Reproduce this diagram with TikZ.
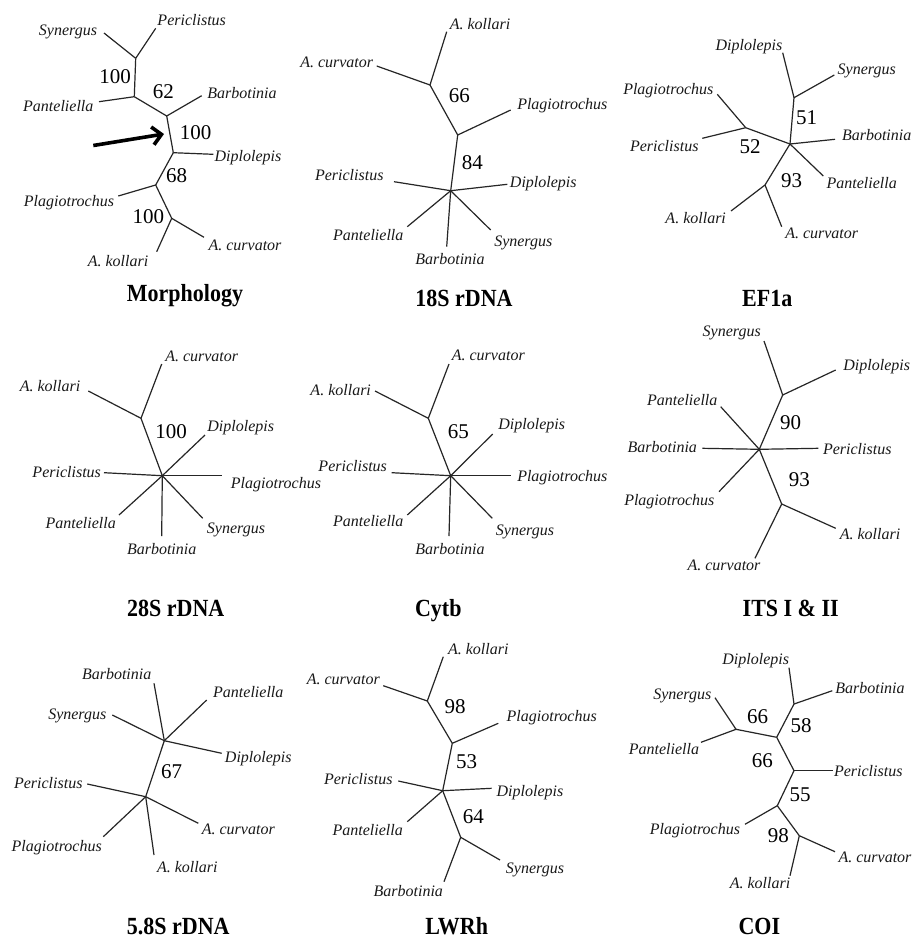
\documentclass[tikz,border=0pt]{standalone}
\usepackage{fontspec}
\setmainfont{Liberation Serif}
\usetikzlibrary{arrows.meta}
\tikzset{
 br/.style={line width=1.2pt, draw=black!85},
 lab/.style={font=\fontsize{16}{16}\selectfont\itshape, text=black!90, inner sep=0pt, text height=10.5pt, text depth=0pt},
 num/.style={font=\fontsize{21}{21}\selectfont, inner sep=0pt, text height=14pt, text depth=0pt},
 ttl/.style={font=\fontsize{22}{22}\selectfont\bfseries, inner sep=0pt, text height=15pt, text depth=0pt, yscale=1.12},
 bigarrow/.style={line width=3.6pt, -{Straight Barb[length=9pt,width=18pt]}},
}
\begin{document}
\begin{tikzpicture}[x=1pt,y=-1pt]
\useasboundingbox[fill=white] (0,0) rectangle (915,938);

% ---------- Morphology ----------
\coordinate (mA) at (135.7,58.3);
\coordinate (mSyn) at (104,33);
\coordinate (mPer) at (155.7,28.3);
\coordinate (mB) at (134.3,96.7);
\coordinate (mPan) at (99,101.7);
\coordinate (mC) at (166.7,116);
\coordinate (mBar) at (201.7,95.7);
\coordinate (mD) at (173.3,152.7);
\coordinate (mDip) at (213.3,154.3);
\coordinate (mE) at (155.7,185);
\coordinate (mPla) at (118.3,196);
\coordinate (mF) at (171.7,218.3);
\coordinate (mCur) at (204,237.3);
\coordinate (mKol) at (156.7,251.7);
\foreach \a/\b in {mA/mSyn,mA/mPer,mA/mB,mB/mPan,mB/mC,mC/mBar,mC/mD,mD/mDip,mD/mE,mE/mPla,mE/mF,mF/mCur,mF/mKol}
  \draw[br] (\a) -- (\b);
\node[lab] (mSynL) at (68,30) {Synergus};
\node[lab] (mPerL) at (191.7,20) {Periclistus};
\node[lab] (mPanL) at (58.3,106) {Panteliella};
\node[lab] (mBarL) at (242,93.3) {Barbotinia};
\node[lab] (mDipL) at (248,156.7) {Diplolepis};
\node[lab] (mPlaL) at (69,201.7) {Plagiotrochus};
\node[lab] (mCurL) at (245,245) {A. curvator};
\node[lab] (mKolL) at (118,261) {A. kollari};
\node[num] (mN1) at (115,76) {100};
\node[num] (mN2) at (163.3,91.7) {62};
\node[num] (mN3) at (195.7,132.3) {100};
\node[num] (mN4) at (176.7,175) {68};
\node[num] (mN5) at (148.3,216) {100};
\coordinate (arrS) at (93.3,145.5);
\coordinate (arrE) at (164,134);
\draw[bigarrow] (arrS) -- (arrE);
\node[ttl] (mT) at (185,293) {Morphology};

% ---------- 18S rDNA ----------
\coordinate (sA) at (430,85);
\coordinate (sKol) at (446.7,31.7);
\coordinate (sCur) at (376.7,66);
\coordinate (sB) at (457.7,135);
\coordinate (sPla) at (510.7,110);
\coordinate (sC) at (450.7,190.7);
\coordinate (sPer) at (394,181.7);
\coordinate (sDip) at (507.3,184.3);
\coordinate (sPan) at (407.3,226.7);
\coordinate (sBar) at (446.7,246.7);
\coordinate (sSyn) at (490.7,230);
\foreach \a/\b in {sA/sKol,sA/sCur,sA/sB,sB/sPla,sB/sC,sC/sPer,sC/sDip,sC/sPan,sC/sBar,sC/sSyn}
  \draw[br] (\a) -- (\b);
\node[lab] (sKolL) at (480,24) {A. kollari};
\node[lab] (sCurL) at (336.7,62.7) {A. curvator};
\node[lab] (sPlaL) at (562.3,104) {Plagiotrochus};
\node[lab] (sPerL) at (349.3,175.7) {Periclistus};
\node[lab] (sDipL) at (543.3,182.7) {Diplolepis};
\node[lab] (sPanL) at (368.3,235) {Panteliella};
\node[lab] (sSynL) at (523.3,241.7) {Synergus};
\node[lab] (sBarL) at (450,259.3) {Barbotinia};
\node[num] (sN1) at (459.3,95.7) {66};
\node[num] (sN2) at (472.3,162.7) {84};
\node[ttl] (sT) at (464,298.3) {18S rDNA};

% ---------- EF1a ----------
\coordinate (eA) at (794,97.7);
\coordinate (eDip) at (782.7,52.7);
\coordinate (eSyn) at (834.3,75);
\coordinate (eB) at (745.7,127.7);
\coordinate (ePla) at (717.3,94.3);
\coordinate (ePer) at (702.3,138.3);
\coordinate (eC) at (790,144);
\coordinate (eBar) at (835,139.3);
\coordinate (ePan) at (823.3,176);
\coordinate (eD) at (765,185);
\coordinate (eKol) at (731,211);
\coordinate (eCur) at (781.7,226.7);
\foreach \a/\b in {eA/eDip,eA/eSyn,eA/eC,eB/ePla,eB/ePer,eB/eC,eC/eBar,eC/ePan,eC/eD,eD/eKol,eD/eCur}
  \draw[br] (\a) -- (\b);
\node[lab] (eDipL) at (749,45) {Diplolepis};
\node[lab] (eSynL) at (866.7,69) {Synergus};
\node[lab] (ePlaL) at (668.3,89.3) {Plagiotrochus};
\node[lab] (ePerL) at (664.3,146) {Periclistus};
\node[lab] (eBarL) at (876.7,135) {Barbotinia};
\node[lab] (ePanL) at (861.7,183.3) {Panteliella};
\node[lab] (eKolL) at (695.7,218.3) {A. kollari};
\node[lab] (eCurL) at (821.7,233.3) {A. curvator};
\node[num] (eN1) at (806.7,117.3) {51};
\node[num] (eN2) at (750,146) {52};
\node[num] (eN3) at (791.7,180) {93};
\node[ttl] (eT) at (767.3,298.3) {EF1a};

% ---------- 28S rDNA ----------
\coordinate (tA) at (141,418.3);
\coordinate (tCur) at (161.7,364);
\coordinate (tKol) at (88.3,391);
\coordinate (tC) at (162.3,475.7);
\coordinate (tDip) at (205,435);
\coordinate (tPer) at (104,472.7);
\coordinate (tPla) at (221.7,475.7);
\coordinate (tPan) at (119,515);
\coordinate (tBar) at (161.7,536);
\coordinate (tSyn) at (202.7,518.3);
\foreach \a/\b in {tA/tCur,tA/tKol,tA/tC,tC/tDip,tC/tPer,tC/tPla,tC/tPan,tC/tBar,tC/tSyn}
  \draw[br] (\a) -- (\b);
\node[lab] (tCurL) at (201.7,356) {A. curvator};
\node[lab] (tKolL) at (50,386.7) {A. kollari};
\node[lab] (tDipL) at (240.7,426) {Diplolepis};
\node[lab] (tPerL) at (66.7,472.3) {Periclistus};
\node[lab] (tPlaL) at (276,483) {Plagiotrochus};
\node[lab] (tPanL) at (80.7,523.3) {Panteliella};
\node[lab] (tSynL) at (236,528.3) {Synergus};
\node[lab] (tBarL) at (161.7,549.3) {Barbotinia};
\node[num] (tN1) at (171,431.7) {100};
\node[ttl] (tT) at (175.7,607.7) {28S rDNA};

% ---------- Cytb ----------
\coordinate (cA) at (428.3,418.3);
\coordinate (cCur) at (449,364);
\coordinate (cKol) at (375,391);
\coordinate (cC) at (450.7,475.7);
\coordinate (cDip) at (492.7,434);
\coordinate (cPer) at (391.7,472.7);
\coordinate (cPla) at (510.7,475.7);
\coordinate (cPan) at (407.3,515);
\coordinate (cBar) at (449,536);
\coordinate (cSyn) at (492.3,518.3);
\foreach \a/\b in {cA/cCur,cA/cKol,cA/cC,cC/cDip,cC/cPer,cC/cPla,cC/cPan,cC/cBar,cC/cSyn}
  \draw[br] (\a) -- (\b);
\node[lab] (cCurL) at (488.3,355) {A. curvator};
\node[lab] (cKolL) at (340.7,390) {A. kollari};
\node[lab] (cDipL) at (531.7,424.3) {Diplolepis};
\node[lab] (cPerL) at (352.7,466) {Periclistus};
\node[lab] (cPlaL) at (562.3,476.7) {Plagiotrochus};
\node[lab] (cPanL) at (368.3,521.7) {Panteliella};
\node[lab] (cSynL) at (525,530) {Synergus};
\node[lab] (cBarL) at (450,549.3) {Barbotinia};
\node[num] (cN1) at (458.3,431.7) {65};
\node[ttl] (cT) at (438.3,607.7) {Cytb};

% ---------- ITS I & II ----------
\coordinate (iA) at (782.7,395);
\coordinate (iSyn) at (764,341);
\coordinate (iDip) at (835.7,370);
\coordinate (iC) at (759.3,449.3);
\coordinate (iPan) at (720.7,406.7);
\coordinate (iBar) at (702.3,448.3);
\coordinate (iPer) at (818.3,448.3);
\coordinate (iPla) at (719,491.7);
\coordinate (iB) at (781.7,504);
\coordinate (iKol) at (835.7,528.3);
\coordinate (iCur) at (755,558.3);
\foreach \a/\b in {iA/iSyn,iA/iDip,iA/iC,iC/iPan,iC/iBar,iC/iPer,iC/iPla,iC/iB,iB/iKol,iB/iCur}
  \draw[br] (\a) -- (\b);
\node[lab] (iSynL) at (731.7,331.7) {Synergus};
\node[lab] (iDipL) at (876.7,365) {Diplolepis};
\node[lab] (iPanL) at (682.3,400.7) {Panteliella};
\node[lab] (iBarL) at (662.3,447.3) {Barbotinia};
\node[lab] (iPerL) at (857.3,449.3) {Periclistus};
\node[lab] (iPlaL) at (669.3,500.7) {Plagiotrochus};
\node[lab] (iKolL) at (870,534) {A. kollari};
\node[lab] (iCurL) at (724,565) {A. curvator};
\node[num] (iN1) at (790.7,422.7) {90};
\node[num] (iN2) at (799.3,479) {93};
\node[ttl] (iT) at (790.7,608.3) {ITS I \& II};

% ---------- 5.8S rDNA ----------
\coordinate (fA) at (164.3,740.7);
\coordinate (fBar) at (154,683.3);
\coordinate (fPan) at (206.7,700);
\coordinate (fSyn) at (112.3,715);
\coordinate (fDip) at (221.7,753.3);
\coordinate (fB) at (145.7,796.7);
\coordinate (fPer) at (87.3,784);
\coordinate (fCur) at (198.3,823.3);
\coordinate (fPla) at (103.3,836.7);
\coordinate (fKol) at (154,855);
\foreach \a/\b in {fA/fBar,fA/fPan,fA/fSyn,fA/fDip,fA/fB,fB/fPer,fB/fCur,fB/fPla,fB/fKol}
  \draw[br] (\a) -- (\b);
\node[lab] (fBarL) at (116.7,674.3) {Barbotinia};
\node[lab] (fPanL) at (248.3,692.7) {Panteliella};
\node[lab] (fSynL) at (77.3,714.3) {Synergus};
\node[lab] (fDipL) at (258.3,757.7) {Diplolepis};
\node[lab] (fPerL) at (48.3,783.3) {Periclistus};
\node[lab] (fCurL) at (238.3,829) {A. curvator};
\node[lab] (fPlaL) at (56.7,846.7) {Plagiotrochus};
\node[lab] (fKolL) at (187.3,867.3) {A. kollari};
\node[num] (fN1) at (171.7,771.7) {67};
\node[ttl] (fT) at (178.3,926) {5.8S rDNA};

% ---------- LWRh ----------
\coordinate (lA) at (427.3,701);
\coordinate (lKol) at (443.3,656.7);
\coordinate (lCur) at (383.3,685.7);
\coordinate (lB) at (452.3,743.3);
\coordinate (lPla) at (498.3,723.3);
\coordinate (lC) at (442.7,790.7);
\coordinate (lPer) at (398.3,781);
\coordinate (lDip) at (491.7,788.3);
\coordinate (lPan) at (407.3,821.7);
\coordinate (lD) at (460.7,837.3);
\coordinate (lSyn) at (500,860);
\coordinate (lBar) at (444,881.7);
\foreach \a/\b in {lA/lKol,lA/lCur,lA/lB,lB/lPla,lB/lC,lC/lPer,lC/lDip,lC/lPan,lC/lD,lD/lSyn,lD/lBar}
  \draw[br] (\a) -- (\b);
\node[lab] (lKolL) at (478.3,649) {A. kollari};
\node[lab] (lCurL) at (343.3,679.3) {A. curvator};
\node[lab] (lPlaL) at (551.7,716.7) {Plagiotrochus};
\node[lab] (lPerL) at (358.3,779) {Periclistus};
\node[lab] (lDipL) at (530,791.7) {Diplolepis};
\node[lab] (lPanL) at (367.7,830) {Panteliella};
\node[lab] (lSynL) at (535,868.3) {Synergus};
\node[lab] (lBarL) at (408.3,891.7) {Barbotinia};
\node[num] (lN1) at (455,706.7) {98};
\node[num] (lN2) at (466.7,761.7) {53};
\node[num] (lN3) at (473.3,816.7) {64};
\node[ttl] (lT) at (456.7,926) {LWRh};

% ---------- COI ----------
\coordinate (oA) at (794,704);
\coordinate (oDip) at (789,667.7);
\coordinate (oBar) at (832.3,690.7);
\coordinate (oB) at (736,729.3);
\coordinate (oSyn) at (715,697.7);
\coordinate (oPan) at (701,742.3);
\coordinate (oC) at (776.7,737.3);
\coordinate (oD) at (794,770.7);
\coordinate (oPer) at (832.7,770.7);
\coordinate (oE) at (777.3,805.7);
\coordinate (oPla) at (745,824.3);
\coordinate (oF) at (799.3,835.7);
\coordinate (oCur) at (835,851.7);
\coordinate (oKol) at (790,875.7);
\foreach \a/\b in {oA/oDip,oA/oBar,oA/oC,oB/oSyn,oB/oPan,oB/oC,oC/oD,oD/oPer,oD/oE,oE/oPla,oE/oF,oF/oCur,oF/oKol}
  \draw[br] (\a) -- (\b);
\node[lab] (oDipL) at (755.7,659) {Diplolepis};
\node[lab] (oBarL) at (870,688.3) {Barbotinia};
\node[lab] (oSynL) at (682.3,694) {Synergus};
\node[lab] (oPanL) at (664,749) {Panteliella};
\node[lab] (oPerL) at (868.3,771.7) {Periclistus};
\node[lab] (oPlaL) at (695,829.3) {Plagiotrochus};
\node[lab] (oCurL) at (875,857.3) {A. curvator};
\node[lab] (oKolL) at (760,883.3) {A. kollari};
\node[num] (oN1) at (757.7,716.7) {66};
\node[num] (oN2) at (801,725) {58};
\node[num] (oN3) at (762.3,760) {66};
\node[num] (oN4) at (800,794.3) {55};
\node[num] (oN5) at (778.3,835.7) {98};
\node[ttl] (oT) at (759.3,926) {COI};
\end{tikzpicture}
\end{document}
